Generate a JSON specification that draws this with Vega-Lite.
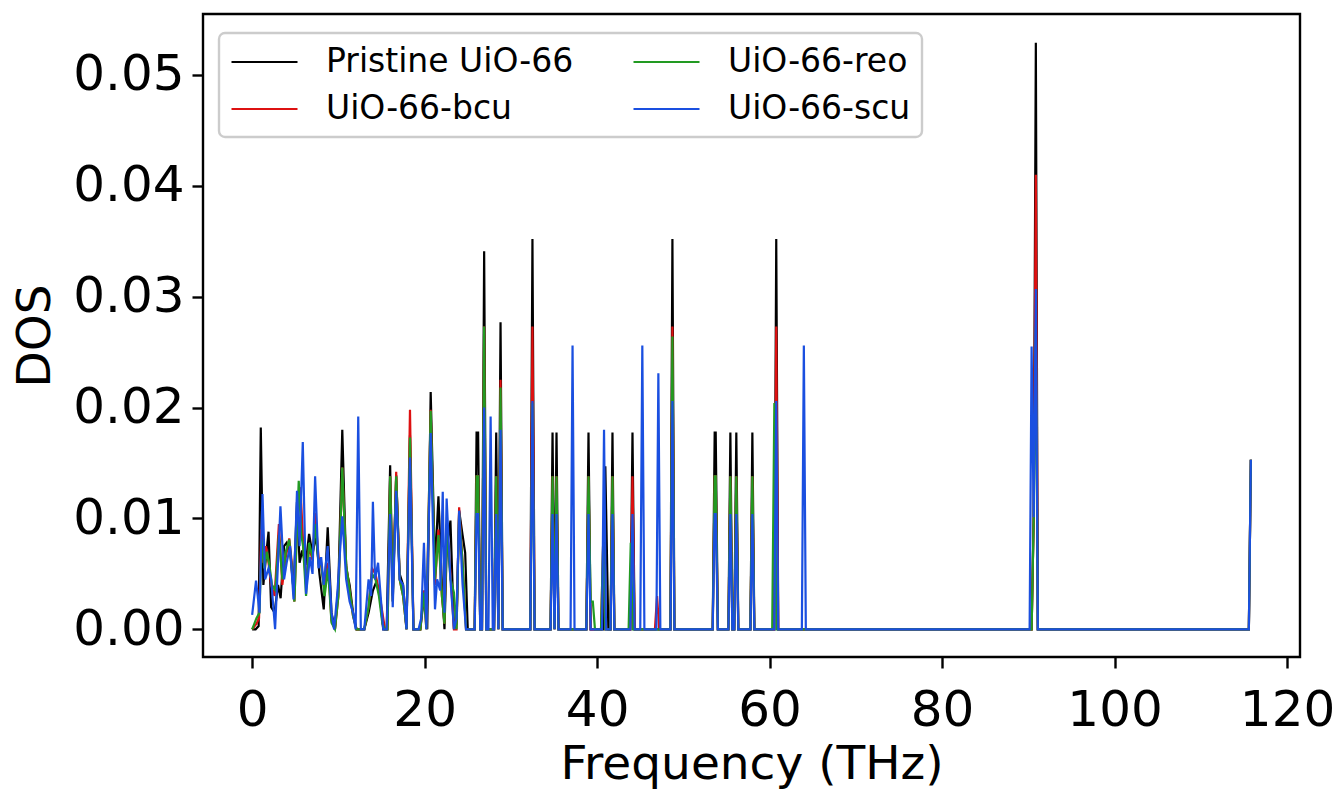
{
"$schema": "https://vega.github.io/schema/vega-lite/v6.json",
"autosize": {"type": "none"},
"padding": {"left": 203, "top": 14, "right": 34, "bottom": 135},
"width": 1097,
"height": 643,
"background": "white",
"datasets": {
"pristine": [{"f":0,"d":0},{"f":0.4,"d":0},{"f":0.75,"d":0.0003},{"f":1.0,"d":0.0182},{"f":1.3,"d":0.004},{"f":1.6,"d":0.0065},{"f":1.9,"d":0.0088},{"f":2.2,"d":0.002},{"f":2.6,"d":0.0015},{"f":3.0,"d":0.004},{"f":3.3,"d":0.0028},{"f":3.7,"d":0.0075},{"f":4.0,"d":0.0078},{"f":4.4,"d":0.007},{"f":4.8,"d":0.0035},{"f":5.2,"d":0.0115},{"f":5.5,"d":0.006},{"f":5.8,"d":0.0071},{"f":6.2,"d":0.0058},{"f":6.6,"d":0.0086},{"f":7.0,"d":0.0068},{"f":7.4,"d":0.0085},{"f":7.8,"d":0.005},{"f":8.3,"d":0.0018},{"f":8.76,"d":0.0092},{"f":9.2,"d":0.0015},{"f":9.6,"d":0},{"f":10.0,"d":0.004},{"f":10.45,"d":0.018},{"f":10.9,"d":0.0055},{"f":11.3,"d":0.004},{"f":11.7,"d":0.0015},{"f":12.1,"d":0},{"f":13.0,"d":0},{"f":13.5,"d":0.0015},{"f":14.0,"d":0.0035},{"f":14.4,"d":0.0043},{"f":14.8,"d":0.003},{"f":15.2,"d":0},{"f":15.6,"d":0},{"f":16.0,"d":0.0148},{"f":16.3,"d":0.003},{"f":16.7,"d":0.0139},{"f":17.1,"d":0.005},{"f":17.5,"d":0.004},{"f":17.9,"d":0},{"f":18.3,"d":0.0175},{"f":18.7,"d":0},{"f":19.5,"d":0},{"f":20.0,"d":0.0035},{"f":20.3,"d":0},{"f":20.7,"d":0.0214},{"f":21.2,"d":0.0055},{"f":21.6,"d":0.012},{"f":22.0,"d":0.004},{"f":22.3,"d":0},{"f":22.55,"d":0.007},{"f":22.99,"d":0.0098},{"f":23.4,"d":0},{"f":23.7,"d":0.0005},{"f":24.0,"d":0.0107},{"f":24.4,"d":0.0085},{"f":24.7,"d":0.0069},{"f":25.0,"d":0},{"f":25.8,"d":0},{"f":26.02,"d":0.01775},{"f":26.2,"d":0.01775},{"f":26.45,"d":0},{"f":26.65,"d":0},{"f":26.9,"d":0.0341},{"f":27.15,"d":0},{"f":28.05,"d":0},{"f":28.3,"d":0.01775},{"f":28.55,"d":0},{"f":28.8,"d":0.0277},{"f":29.05,"d":0},{"f":32.25,"d":0},{"f":32.5,"d":0.0352},{"f":32.75,"d":0},{"f":34.6,"d":0},{"f":34.83,"d":0.01775},{"f":35.06,"d":0},{"f":35.29,"d":0.01775},{"f":35.52,"d":0},{"f":38.75,"d":0},{"f":39.0,"d":0.01775},{"f":39.25,"d":0},{"f":40.7,"d":0},{"f":40.95,"d":0.0147},{"f":41.3,"d":0},{"f":41.55,"d":0},{"f":41.78,"d":0.01775},{"f":42.0,"d":0},{"f":43.85,"d":0},{"f":44.1,"d":0.01775},{"f":44.35,"d":0},{"f":48.5,"d":0},{"f":48.73,"d":0.0352},{"f":48.96,"d":0},{"f":53.4,"d":0},{"f":53.63,"d":0.01775},{"f":53.75,"d":0.01775},{"f":54.0,"d":0},{"f":55.22,"d":0},{"f":55.45,"d":0.01775},{"f":55.68,"d":0},{"f":55.9,"d":0},{"f":56.14,"d":0.01775},{"f":56.37,"d":0},{"f":57.77,"d":0},{"f":58.0,"d":0.01775},{"f":58.23,"d":0},{"f":60.54,"d":0},{"f":60.77,"d":0.0352},{"f":61.0,"d":0},{"f":90.38,"d":0},{"f":90.62,"d":0.0101},{"f":90.87,"d":0.0529},{"f":91.1,"d":0},{"f":115.57,"d":0},{"f":115.8,"d":0.0153}],
"bcu": [{"f":0,"d":0},{"f":0.5,"d":0.0005},{"f":0.8,"d":0.001},{"f":1.05,"d":0.009},{"f":1.3,"d":0.006},{"f":1.6,"d":0.0075},{"f":1.9,"d":0.006},{"f":2.2,"d":0.004},{"f":2.6,"d":0.003},{"f":3.1,"d":0.0095},{"f":3.5,"d":0.004},{"f":3.9,"d":0.0065},{"f":4.3,"d":0.0082},{"f":4.6,"d":0.006},{"f":4.9,"d":0.0025},{"f":5.3,"d":0.012},{"f":5.6,"d":0.0128},{"f":5.9,"d":0.008},{"f":6.25,"d":0.004},{"f":6.6,"d":0.0075},{"f":7.0,"d":0.0062},{"f":7.3,"d":0.0105},{"f":7.7,"d":0.0065},{"f":8.0,"d":0.0058},{"f":8.4,"d":0.0035},{"f":8.8,"d":0.006},{"f":9.2,"d":0.0008},{"f":9.6,"d":0},{"f":10.0,"d":0.003},{"f":10.45,"d":0.0146},{"f":10.9,"d":0.0058},{"f":11.3,"d":0.0035},{"f":11.7,"d":0.0012},{"f":12.1,"d":0},{"f":13.0,"d":0},{"f":13.5,"d":0.002},{"f":13.9,"d":0.0055},{"f":14.3,"d":0.005},{"f":14.7,"d":0.0035},{"f":15.1,"d":0.0015},{"f":15.4,"d":0},{"f":15.7,"d":0},{"f":16.0,"d":0.0138},{"f":16.3,"d":0.0025},{"f":16.7,"d":0.0142},{"f":17.1,"d":0.0045},{"f":17.5,"d":0.003},{"f":17.9,"d":0},{"f":18.3,"d":0.0198},{"f":18.7,"d":0},{"f":19.5,"d":0},{"f":19.9,"d":0.0035},{"f":20.2,"d":0},{"f":20.7,"d":0.0198},{"f":21.2,"d":0.004},{"f":21.6,"d":0.009},{"f":22.0,"d":0.003},{"f":22.3,"d":0.0005},{"f":22.55,"d":0.0095},{"f":23.0,"d":0.005},{"f":23.4,"d":0},{"f":23.7,"d":0},{"f":24.0,"d":0.011},{"f":24.4,"d":0.006},{"f":24.8,"d":0},{"f":25.8,"d":0},{"f":26.02,"d":0.0138},{"f":26.2,"d":0.0138},{"f":26.45,"d":0},{"f":26.65,"d":0},{"f":26.9,"d":0.0273},{"f":27.15,"d":0},{"f":28.05,"d":0},{"f":28.3,"d":0.0138},{"f":28.55,"d":0},{"f":28.8,"d":0.0225},{"f":29.05,"d":0},{"f":32.25,"d":0},{"f":32.5,"d":0.0273},{"f":32.75,"d":0},{"f":34.6,"d":0},{"f":34.83,"d":0.0138},{"f":35.06,"d":0},{"f":35.29,"d":0.0138},{"f":35.52,"d":0},{"f":38.75,"d":0},{"f":39.0,"d":0.0138},{"f":39.25,"d":0},{"f":40.45,"d":0},{"f":40.7,"d":0.0078},{"f":40.95,"d":0},{"f":41.55,"d":0},{"f":41.78,"d":0.0138},{"f":42.0,"d":0},{"f":43.85,"d":0},{"f":44.1,"d":0.0138},{"f":44.35,"d":0},{"f":46.7,"d":0},{"f":46.95,"d":0.003},{"f":47.2,"d":0},{"f":48.5,"d":0},{"f":48.73,"d":0.0273},{"f":48.96,"d":0},{"f":53.4,"d":0},{"f":53.63,"d":0.0138},{"f":53.75,"d":0.0138},{"f":54.0,"d":0},{"f":55.22,"d":0},{"f":55.45,"d":0.0138},{"f":55.68,"d":0},{"f":55.9,"d":0},{"f":56.14,"d":0.0138},{"f":56.37,"d":0},{"f":57.77,"d":0},{"f":58.0,"d":0.0138},{"f":58.23,"d":0},{"f":60.54,"d":0},{"f":60.77,"d":0.0273},{"f":61.0,"d":0},{"f":90.38,"d":0},{"f":90.62,"d":0.0101},{"f":90.87,"d":0.041},{"f":91.1,"d":0},{"f":115.57,"d":0},{"f":115.8,"d":0.0153}],
"reo": [{"f":0,"d":0},{"f":0.5,"d":0.001},{"f":0.85,"d":0.0015},{"f":1.1,"d":0.0081},{"f":1.4,"d":0.0055},{"f":1.7,"d":0.007},{"f":2.0,"d":0.0058},{"f":2.3,"d":0.004},{"f":2.7,"d":0.0035},{"f":3.1,"d":0.0085},{"f":3.5,"d":0.0045},{"f":3.9,"d":0.007},{"f":4.3,"d":0.0081},{"f":4.6,"d":0.0055},{"f":4.9,"d":0.0025},{"f":5.4,"d":0.0134},{"f":5.7,"d":0.0085},{"f":5.9,"d":0.0075},{"f":6.25,"d":0.003},{"f":6.6,"d":0.0078},{"f":7.0,"d":0.0065},{"f":7.3,"d":0.0095},{"f":7.7,"d":0.006},{"f":8.0,"d":0.006},{"f":8.4,"d":0.003},{"f":8.8,"d":0.0055},{"f":9.2,"d":0.0006},{"f":9.6,"d":0},{"f":10.0,"d":0.003},{"f":10.45,"d":0.0146},{"f":10.9,"d":0.0058},{"f":11.3,"d":0.0035},{"f":11.7,"d":0.0012},{"f":12.1,"d":0},{"f":13.0,"d":0},{"f":13.5,"d":0.002},{"f":13.9,"d":0.005},{"f":14.3,"d":0.0045},{"f":14.7,"d":0.003},{"f":15.1,"d":0.0005},{"f":15.4,"d":0},{"f":15.7,"d":0},{"f":16.0,"d":0.0138},{"f":16.3,"d":0.0025},{"f":16.7,"d":0.0138},{"f":17.1,"d":0.0045},{"f":17.5,"d":0.003},{"f":17.9,"d":0},{"f":18.3,"d":0.0173},{"f":18.7,"d":0},{"f":19.5,"d":0},{"f":19.9,"d":0.0033},{"f":20.2,"d":0},{"f":20.7,"d":0.0197},{"f":21.2,"d":0.0045},{"f":21.6,"d":0.0085},{"f":22.0,"d":0.003},{"f":22.3,"d":0.0005},{"f":22.55,"d":0.009},{"f":23.0,"d":0.0045},{"f":23.4,"d":0.0033},{"f":23.7,"d":0},{"f":24.0,"d":0.0105},{"f":24.4,"d":0.006},{"f":24.8,"d":0},{"f":25.8,"d":0},{"f":26.02,"d":0.0138},{"f":26.2,"d":0.0138},{"f":26.45,"d":0},{"f":26.65,"d":0},{"f":26.9,"d":0.0273},{"f":27.15,"d":0},{"f":28.05,"d":0},{"f":28.3,"d":0.0138},{"f":28.55,"d":0},{"f":28.8,"d":0.0218},{"f":29.05,"d":0},{"f":32.25,"d":0},{"f":32.5,"d":0.0204},{"f":32.75,"d":0},{"f":34.6,"d":0},{"f":34.83,"d":0.0138},{"f":35.06,"d":0},{"f":35.29,"d":0.0138},{"f":35.52,"d":0},{"f":38.75,"d":0},{"f":39.0,"d":0.0138},{"f":39.25,"d":0.0025},{"f":39.5,"d":0.0025},{"f":39.75,"d":0},{"f":40.45,"d":0},{"f":40.7,"d":0.0078},{"f":40.95,"d":0},{"f":41.55,"d":0},{"f":41.78,"d":0.0138},{"f":42.0,"d":0},{"f":43.65,"d":0},{"f":43.9,"d":0.0078},{"f":44.15,"d":0},{"f":48.5,"d":0},{"f":48.73,"d":0.0264},{"f":48.96,"d":0},{"f":53.4,"d":0},{"f":53.63,"d":0.0138},{"f":53.75,"d":0.0138},{"f":54.0,"d":0},{"f":55.22,"d":0},{"f":55.45,"d":0.0138},{"f":55.68,"d":0},{"f":55.9,"d":0},{"f":56.14,"d":0.0138},{"f":56.37,"d":0},{"f":57.77,"d":0},{"f":58.0,"d":0.0138},{"f":58.23,"d":0},{"f":60.3,"d":0},{"f":60.55,"d":0.0204},{"f":60.8,"d":0},{"f":90.38,"d":0},{"f":90.62,"d":0.0101},{"f":90.87,"d":0.0273},{"f":91.1,"d":0},{"f":115.57,"d":0},{"f":115.8,"d":0.0153}],
"scu": [{"f":0,"d":0.0013},{"f":0.45,"d":0.0044},{"f":0.85,"d":0.0015},{"f":1.2,"d":0.0122},{"f":1.5,"d":0.0045},{"f":1.9,"d":0.0055},{"f":2.2,"d":0.0045},{"f":2.66,"d":0},{"f":3.28,"d":0.0111},{"f":3.7,"d":0.0045},{"f":4.0,"d":0.006},{"f":4.4,"d":0.0075},{"f":4.8,"d":0.0027},{"f":5.2,"d":0.0125},{"f":5.5,"d":0.0075},{"f":5.87,"d":0.0169},{"f":6.25,"d":0.0032},{"f":6.7,"d":0.0065},{"f":7.0,"d":0.005},{"f":7.3,"d":0.0138},{"f":7.7,"d":0.0055},{"f":8.0,"d":0.0065},{"f":8.3,"d":0.004},{"f":8.76,"d":0.0075},{"f":9.2,"d":0.0015},{"f":9.5,"d":0},{"f":9.9,"d":0.0035},{"f":10.45,"d":0.0102},{"f":10.9,"d":0.0045},{"f":11.3,"d":0.0025},{"f":11.7,"d":0.0015},{"f":12.0,"d":0},{"f":12.3,"d":0.0192},{"f":12.6,"d":0},{"f":13.0,"d":0},{"f":13.5,"d":0.0045},{"f":13.8,"d":0.003},{"f":14.0,"d":0.0115},{"f":14.25,"d":0.0045},{"f":14.6,"d":0.006},{"f":14.9,"d":0.003},{"f":15.2,"d":0},{"f":15.6,"d":0},{"f":16.0,"d":0.0104},{"f":16.3,"d":0.002},{"f":16.7,"d":0.0125},{"f":17.1,"d":0.0045},{"f":17.5,"d":0.004},{"f":17.9,"d":0},{"f":18.3,"d":0.0155},{"f":18.7,"d":0},{"f":19.3,"d":0},{"f":19.6,"d":0.001},{"f":19.92,"d":0.0078},{"f":20.2,"d":0},{"f":20.7,"d":0.0177},{"f":21.2,"d":0.0018},{"f":21.45,"d":0.0045},{"f":21.8,"d":0.0035},{"f":22.1,"d":0.0124},{"f":22.3,"d":0.0015},{"f":22.55,"d":0.0118},{"f":22.99,"d":0.0045},{"f":23.4,"d":0},{"f":23.7,"d":0.001},{"f":24.0,"d":0.0107},{"f":24.4,"d":0.004},{"f":24.8,"d":0},{"f":25.8,"d":0},{"f":26.02,"d":0.0104},{"f":26.2,"d":0.0104},{"f":26.45,"d":0},{"f":26.65,"d":0},{"f":26.9,"d":0.02},{"f":27.15,"d":0},{"f":27.4,"d":0},{"f":27.65,"d":0.0192},{"f":27.9,"d":0},{"f":28.05,"d":0},{"f":28.3,"d":0.0104},{"f":28.55,"d":0},{"f":28.8,"d":0.018},{"f":29.05,"d":0},{"f":32.25,"d":0},{"f":32.5,"d":0.0206},{"f":32.75,"d":0},{"f":34.6,"d":0},{"f":34.83,"d":0.0104},{"f":35.06,"d":0},{"f":35.29,"d":0.0104},{"f":35.52,"d":0},{"f":36.92,"d":0},{"f":37.15,"d":0.0256},{"f":37.38,"d":0},{"f":38.75,"d":0},{"f":39.0,"d":0.0104},{"f":39.25,"d":0},{"f":40.57,"d":0},{"f":40.8,"d":0.018},{"f":41.03,"d":0},{"f":41.55,"d":0},{"f":41.78,"d":0.0104},{"f":42.0,"d":0},{"f":43.85,"d":0},{"f":44.1,"d":0.0104},{"f":44.35,"d":0},{"f":45.0,"d":0},{"f":45.24,"d":0.0256},{"f":45.48,"d":0},{"f":46.87,"d":0},{"f":47.1,"d":0.0231},{"f":47.33,"d":0},{"f":48.5,"d":0},{"f":48.73,"d":0.0206},{"f":48.96,"d":0},{"f":53.4,"d":0},{"f":53.63,"d":0.0104},{"f":53.75,"d":0.0104},{"f":54.0,"d":0},{"f":55.22,"d":0},{"f":55.45,"d":0.0104},{"f":55.68,"d":0},{"f":55.9,"d":0},{"f":56.14,"d":0.0104},{"f":56.37,"d":0},{"f":57.77,"d":0},{"f":58.0,"d":0.0104},{"f":58.23,"d":0},{"f":60.54,"d":0},{"f":60.77,"d":0.0206},{"f":61.0,"d":0},{"f":63.74,"d":0},{"f":63.97,"d":0.0256},{"f":64.2,"d":0},{"f":90.15,"d":0},{"f":90.38,"d":0.0255},{"f":90.62,"d":0.0101},{"f":90.87,"d":0.0307},{"f":91.1,"d":0},{"f":115.57,"d":0},{"f":115.8,"d":0.0153}]
},
"encoding": {
"x": {"field": "f", "type": "quantitative", "sort": null,
  "scale": {"domain": [-5.7, 121.5], "nice": false, "zero": false},
  "axis": {"values": [0,20,40,60,80,100,120], "title": "Frequency (THz)", "format": "d"}},
"y": {"field": "d", "type": "quantitative",
  "scale": {"domain": [-0.0025, 0.0555], "nice": false, "zero": false},
  "axis": {"values": [0,0.01,0.02,0.03,0.04,0.05], "title": "DOS", "format": ".2f"}}
},
"layer": [
{"data": {"name": "pristine"}, "mark": {"type": "line", "clip": true, "strokeWidth": 2.2},
 "encoding": {"order": {"field": "f", "type": "quantitative"}, "color": {"datum": "Pristine UiO-66", "type": "nominal", "scale": {"domain": ["Pristine UiO-66","UiO-66-bcu","UiO-66-reo","UiO-66-scu"], "range": ["#000000","#dd1111","#229a22","#1a4fe0"]}, "legend": {"values": ["Pristine UiO-66","UiO-66-bcu","UiO-66-reo","UiO-66-scu"]}}}},
{"data": {"name": "bcu"}, "mark": {"type": "line", "clip": true, "strokeWidth": 2.2},
 "encoding": {"order": {"field": "f", "type": "quantitative"}, "color": {"datum": "UiO-66-bcu", "type": "nominal", "scale": {"domain": ["Pristine UiO-66","UiO-66-bcu","UiO-66-reo","UiO-66-scu"], "range": ["#000000","#dd1111","#229a22","#1a4fe0"]}, "legend": {"values": ["Pristine UiO-66","UiO-66-bcu","UiO-66-reo","UiO-66-scu"]}}}},
{"data": {"name": "reo"}, "mark": {"type": "line", "clip": true, "strokeWidth": 2.2},
 "encoding": {"order": {"field": "f", "type": "quantitative"}, "color": {"datum": "UiO-66-reo", "type": "nominal", "scale": {"domain": ["Pristine UiO-66","UiO-66-bcu","UiO-66-reo","UiO-66-scu"], "range": ["#000000","#dd1111","#229a22","#1a4fe0"]}, "legend": {"values": ["Pristine UiO-66","UiO-66-bcu","UiO-66-reo","UiO-66-scu"]}}}},
{"data": {"name": "scu"}, "mark": {"type": "line", "clip": true, "strokeWidth": 2.2},
 "encoding": {"order": {"field": "f", "type": "quantitative"}, "color": {"datum": "UiO-66-scu", "type": "nominal", "scale": {"domain": ["Pristine UiO-66","UiO-66-bcu","UiO-66-reo","UiO-66-scu"], "range": ["#000000","#dd1111","#229a22","#1a4fe0"]}, "legend": {"values": ["Pristine UiO-66","UiO-66-bcu","UiO-66-reo","UiO-66-scu"]}}}}
],
"config": {
"font": "DejaVu Sans",
"view": {"stroke": "black", "strokeWidth": 2.4},
"axis": {"domain": false, "grid": false, "ticks": true, "tickSize": 11, "tickWidth": 2.4, "tickColor": "black",
  "labelFont": "DejaVu Sans", "labelFontSize": 50, "labelColor": "black", "labelPadding": 8,
  "titleFont": "DejaVu Sans", "titleFontSize": 47, "titleFontWeight": "normal", "titleColor": "black"},
"axisX": {"titlePadding": 6, "labelFlush": false, "labelPadding": 17},
"axisY": {"titlePadding": 13, "labelFlush": false},
"legend": {"orient": "none", "legendX": 16, "legendY": 19, "title": null, "columns": 2,
  "symbolType": "M-1,0L3,0", "symbolSize": 1089, "symbolStrokeWidth": 2.2, "symbolFillColor": "transparent",
  "labelFont": "DejaVu Sans", "labelFontSize": 33, "labelColor": "black", "labelOffset": 60, "labelLimit": 0,
  "columnPadding": 55, "rowPadding": 12, "padding": 11,
  "strokeColor": "#cccccc", "strokeWidth": 2.4, "fillColor": "white", "cornerRadius": 6}
}
}
